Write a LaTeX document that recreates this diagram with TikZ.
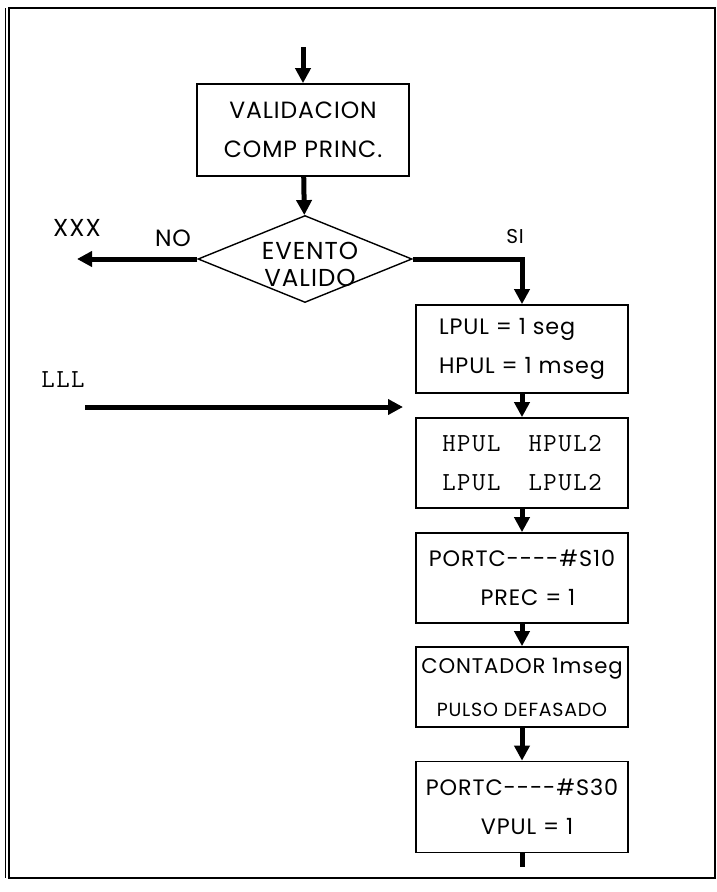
\documentclass[tikz,border=0pt]{standalone}
\usepackage{fontspec}
\setmainfont{Poppins}[LetterSpace=4]
\setmonofont{Latin Modern Mono}[LetterSpace=6]
\usetikzlibrary{shapes.geometric,arrows.meta}

\begin{document}
\begin{tikzpicture}[x=1pt, y=-1pt,
      every node/.append style={font=\fontsize{22.3}{39}\selectfont},
      pbox/.style={draw=black, line width=1.7pt, minimum width=212pt, inner sep=0pt},
      cond/.style={diamond, draw=black, line width=1.4pt, minimum width=214pt, minimum height=87pt, inner sep=0pt},
      mono/.style={font=\ttfamily\fontsize{26}{39}\selectfont},
      flow/.style={-{Triangle[length=15pt,width=15pt]}, line width=5pt}]

    \useasboundingbox (0,0) rectangle (717,892);

    % ---------------- frame ----------------
    \draw[line width=1.2pt] (9,8) rectangle (715,878);
    \draw[line width=0.9pt] (5,8) -- (5,878);

    % ---------------- validation and decision ----------------
    \coordinate (in) at (303,47);
    \node[pbox, minimum height=92pt, align=center, font=\fontsize{23.5}{39}\selectfont] (val) at (303,130)
      {VALIDACION\\COMP PRINC.};
    \node[cond] (dec) at (305,259) {};
    \node[align=center, font=\fontsize{24.5}{27}\selectfont] (dectext) at (310,264) {EVENTO\\VALIDO};
    \draw[flow] (in) -- (val);
    \draw[flow] (val) -- (dec);

    % NO branch
    \coordinate (xxx) at (77,259);
    \draw[flow] (dec.west) -- (xxx);
    \node[font=\fontsize{24.5}{24}\selectfont] (xxxlabel) at (77,228) {XXX};
    \node[font=\fontsize{23.5}{24}\selectfont] (nolabel) at (173,238) {NO};

    % ---------------- SI branch: right column ----------------
    \node[font=\fontsize{20}{20}\selectfont] (silabel) at (515,237) {SI};

    \node[pbox, minimum height=88pt, align=left] (b1) at (522,349)
      {LPUL = 1 seg\\HPUL = 1 mseg};
    \node[pbox, minimum height=90pt, mono] (b2) at (522,463)
      {\begin{tabular}{@{}l@{\hspace{28pt}}r@{}}HPUL & HPUL2\\ LPUL & LPUL2\end{tabular}};
    \node[pbox, minimum height=90pt, align=center] (b3) at (522,578)
      {PORTC-{}-{}-{}-\#S10\\\hspace{12pt}PREC = 1};
    \node[pbox, minimum height=80pt, align=center, font=\fontsize{21.2}{43}\selectfont] (b4) at (522,687)
      {CONTADOR 1mseg\\{\fontsize{19}{19}\selectfont PULSO DEFASADO}};
    \node[pbox, minimum height=91pt, align=center] (b5) at (522,807)
      {PORTC-{}-{}-{}-\#S30\\\hspace{10pt}VPUL = 1};

    \draw[flow] (dec.east) -- (b1.north |- dec.east) -- (b1.north);
    \foreach \a/\b in {b1/b2, b2/b3, b3/b4, b4/b5}
      \draw[flow] (\a) -- (\b);
    \coordinate (tail) at (522,867);
    \draw[line width=5pt] (b5) -- (tail);

    % ---------------- LLL entry ----------------
    \node[mono] (lll) at (63,380) {LLL};
    \coordinate (lllstart) at (85,407);
    \coordinate (lllend) at (403,407);
    \draw[flow] (lllstart) -- (lllend);
  \end{tikzpicture}
\end{document}
